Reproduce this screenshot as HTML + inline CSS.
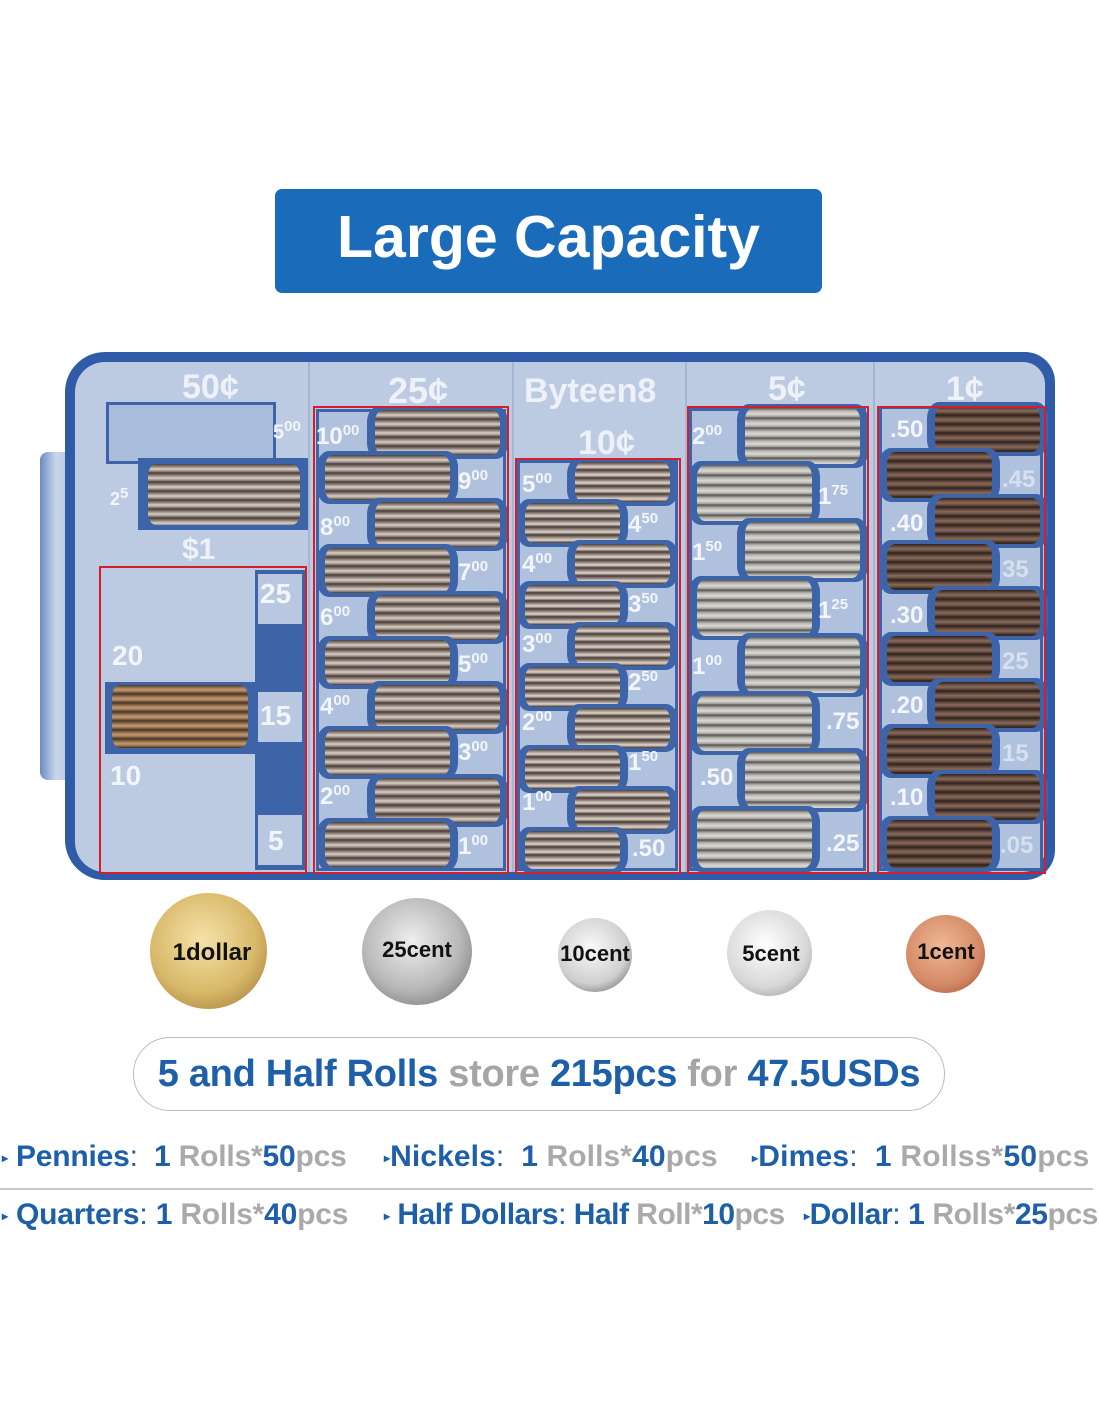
<!DOCTYPE html>
<html><head><meta charset="utf-8">
<style>
*{margin:0;padding:0;box-sizing:border-box}
body{width:1100px;height:1422px;background:#fff;position:relative;overflow:hidden;font-family:"Liberation Sans",sans-serif}
.a{position:absolute}
.st{position:absolute;border-radius:8px/12px;box-shadow:0 0 0 4px #3d63a8,4px 0 0 4px #3d63a8,-4px 0 0 4px #3d63a8}
.q{background:repeating-linear-gradient(180deg,#4a3f3a 0,#9d8f86 3px,#d9d0c8 5px,#7d6e66 8px,#3a302c 9px)}
.d{background:repeating-linear-gradient(180deg,#4a3f3a 0,#a89a92 3px,#e0d8d0 5px,#7d6e66 7px,#3a302c 8px)}
.n{background:repeating-linear-gradient(180deg,#555 0,#b8b6b0 3px,#dcdad4 6px,#9c9a94 9px,#444 10px)}
.p{background:repeating-linear-gradient(180deg,#2e211c 0,#6b5045 3px,#8a6a5a 5px,#4d3a32 8px,#2a1d18 9px)}
.col{position:absolute;background:#b0c1dd;border:3px solid #3d63a8}
.t{position:absolute;color:#f2f5fa;font-weight:bold;font-size:24px;white-space:nowrap}
.t sup{font-size:15px}
.h{position:absolute;color:#eef2f8;font-weight:bold;font-size:34px;white-space:nowrap}
.red{position:absolute;border:2px solid #d41f2a}
.coin{position:absolute;border-radius:50%}
.cl{position:absolute;font-weight:bold;color:#111;font-size:22px;white-space:nowrap;transform:translateX(-50%)}
.row{position:absolute;font-weight:bold;font-size:30px;white-space:nowrap;color:#1d5fa8;letter-spacing:-0.1px}
.row i{font-style:normal;color:#aaa}
.row b{font-size:12px;vertical-align:middle;color:#1d5fa8}
</style></head><body>

<div class="a" style="left:275px;top:189px;width:547px;height:104px;background:#1a6cba;border-radius:7px"></div>
<div class="a" style="left:275px;top:203px;width:547px;text-align:center;color:#fff;font-weight:bold;font-size:59px">Large Capacity</div>

<div class="a" style="left:40px;top:452px;width:40px;height:328px;background:linear-gradient(90deg,#6b8bc4,#c9d6ea 40%,#aabde0);border-radius:8px"></div>
<div class="a" style="left:65px;top:352px;width:990px;height:528px;background:#2f5ba8;border-radius:40px 30px 30px 40px"></div>
<div class="a" style="left:75px;top:362px;width:970px;height:510px;background:#bccbe2;border-radius:30px 22px 22px 30px"></div>
<div class="a" style="left:308px;top:362px;width:2px;height:510px;background:#a5b6d3"></div>
<div class="a" style="left:512px;top:362px;width:2px;height:510px;background:#a5b6d3"></div>
<div class="a" style="left:685px;top:362px;width:2px;height:510px;background:#a5b6d3"></div>
<div class="a" style="left:873px;top:362px;width:2px;height:510px;background:#a5b6d3"></div>

<div class="h" style="left:182px;top:368px">50¢</div>
<div class="h" style="left:388px;top:370px;font-size:36px">25¢</div>
<div class="h" style="left:524px;top:372px">Byteen8</div>
<div class="h" style="left:578px;top:424px">10¢</div>
<div class="h" style="left:768px;top:370px">5¢</div>
<div class="h" style="left:946px;top:370px">1¢</div>
<div class="h" style="left:182px;top:533px;font-size:30px">$1</div>

<div class="a" style="left:106px;top:402px;width:170px;height:62px;background:#a9bcdc;border:3px solid #3d63a8"></div>
<div class="a" style="left:138px;top:458px;width:170px;height:72px;background:#3d63a8"></div>
<div class="st q" style="left:148px;top:464px;width:152px;height:61px;box-shadow:none"></div>
<div class="t" style="left:273px;top:418px;font-size:20px">5<sup>00</sup></div>
<div class="t" style="left:110px;top:485px;font-size:18px">2<sup>5</sup></div>

<div class="a" style="left:255px;top:570px;width:50px;height:300px;background:#3d63a8"></div>
<div class="a" style="left:105px;top:682px;width:150px;height:72px;background:#3d63a8"></div>
<div class="a" style="left:258px;top:574px;width:44px;height:50px;background:#b9c8e0"></div>
<div class="a" style="left:258px;top:692px;width:44px;height:50px;background:#b9c8e0"></div>
<div class="a" style="left:258px;top:815px;width:44px;height:50px;background:#b9c8e0"></div>
<div class="st" style="left:112px;top:685px;width:136px;height:63px;box-shadow:none;background:repeating-linear-gradient(180deg,#4a3a2a 0,#a07b5a 3px,#c59a70 5px,#6d5038 8px,#3a2a1e 9px)"></div>
<div class="t" style="left:260px;top:578px;font-size:28px">25</div>
<div class="t" style="left:112px;top:640px;font-size:28px">20</div>
<div class="t" style="left:260px;top:700px;font-size:28px">15</div>
<div class="t" style="left:110px;top:760px;font-size:28px">10</div>
<div class="t" style="left:268px;top:825px;font-size:28px">5</div>

<div class="col" style="left:316px;top:409px;width:190px;height:462px"></div>
<div class="st q" style="left:375px;top:410px;width:125px;height:45px"></div>
<div class="st q" style="left:325px;top:455px;width:125px;height:45px"></div>
<div class="st q" style="left:375px;top:502px;width:125px;height:45px"></div>
<div class="st q" style="left:325px;top:548px;width:125px;height:45px"></div>
<div class="st q" style="left:375px;top:595px;width:125px;height:45px"></div>
<div class="st q" style="left:325px;top:640px;width:125px;height:45px"></div>
<div class="st q" style="left:375px;top:685px;width:125px;height:45px"></div>
<div class="st q" style="left:325px;top:730px;width:125px;height:45px"></div>
<div class="st q" style="left:375px;top:778px;width:125px;height:45px"></div>
<div class="st q" style="left:325px;top:822px;width:125px;height:45px"></div>
<div class="t" style="left:316px;top:422px">10<sup>00</sup></div>
<div class="t" style="left:458px;top:467px">9<sup>00</sup></div>
<div class="t" style="left:320px;top:513px">8<sup>00</sup></div>
<div class="t" style="left:458px;top:558px">7<sup>00</sup></div>
<div class="t" style="left:320px;top:603px">6<sup>00</sup></div>
<div class="t" style="left:458px;top:650px">5<sup>00</sup></div>
<div class="t" style="left:320px;top:692px">4<sup>00</sup></div>
<div class="t" style="left:458px;top:738px">3<sup>00</sup></div>
<div class="t" style="left:320px;top:782px">2<sup>00</sup></div>
<div class="t" style="left:458px;top:832px">1<sup>00</sup></div>

<div class="col" style="left:517px;top:460px;width:161px;height:411px"></div>
<div class="st d" style="left:575px;top:462px;width:95px;height:40px"></div>
<div class="st d" style="left:525px;top:503px;width:95px;height:40px"></div>
<div class="st d" style="left:575px;top:544px;width:95px;height:40px"></div>
<div class="st d" style="left:525px;top:585px;width:95px;height:40px"></div>
<div class="st d" style="left:575px;top:626px;width:95px;height:40px"></div>
<div class="st d" style="left:525px;top:667px;width:95px;height:40px"></div>
<div class="st d" style="left:575px;top:708px;width:95px;height:40px"></div>
<div class="st d" style="left:525px;top:749px;width:95px;height:40px"></div>
<div class="st d" style="left:575px;top:790px;width:95px;height:40px"></div>
<div class="st d" style="left:525px;top:831px;width:95px;height:38px"></div>
<div class="t" style="left:522px;top:470px">5<sup>00</sup></div>
<div class="t" style="left:628px;top:510px">4<sup>50</sup></div>
<div class="t" style="left:522px;top:550px">4<sup>00</sup></div>
<div class="t" style="left:628px;top:590px">3<sup>50</sup></div>
<div class="t" style="left:522px;top:630px">3<sup>00</sup></div>
<div class="t" style="left:628px;top:668px">2<sup>50</sup></div>
<div class="t" style="left:522px;top:708px">2<sup>00</sup></div>
<div class="t" style="left:628px;top:748px">1<sup>50</sup></div>
<div class="t" style="left:522px;top:788px">1<sup>00</sup></div>
<div class="t" style="left:632px;top:835px">.50</div>

<div class="col" style="left:689px;top:408px;width:177px;height:463px"></div>
<div class="st n" style="left:745px;top:408px;width:115px;height:56px"></div>
<div class="st n" style="left:697px;top:465px;width:115px;height:56px"></div>
<div class="st n" style="left:745px;top:522px;width:115px;height:56px"></div>
<div class="st n" style="left:697px;top:580px;width:115px;height:56px"></div>
<div class="st n" style="left:745px;top:637px;width:115px;height:56px"></div>
<div class="st n" style="left:697px;top:695px;width:115px;height:56px"></div>
<div class="st n" style="left:745px;top:752px;width:115px;height:56px"></div>
<div class="st n" style="left:697px;top:810px;width:115px;height:58px"></div>
<div class="t" style="left:692px;top:422px">2<sup>00</sup></div>
<div class="t" style="left:818px;top:482px">1<sup>75</sup></div>
<div class="t" style="left:692px;top:538px">1<sup>50</sup></div>
<div class="t" style="left:818px;top:596px">1<sup>25</sup></div>
<div class="t" style="left:692px;top:652px">1<sup>00</sup></div>
<div class="t" style="left:826px;top:708px">.75</div>
<div class="t" style="left:700px;top:764px">.50</div>
<div class="t" style="left:826px;top:830px">.25</div>

<div class="col" style="left:879px;top:406px;width:164px;height:465px"></div>
<div class="st p" style="left:935px;top:406px;width:105px;height:46px"></div>
<div class="st p" style="left:887px;top:452px;width:105px;height:46px"></div>
<div class="st p" style="left:935px;top:498px;width:105px;height:46px"></div>
<div class="st p" style="left:887px;top:544px;width:105px;height:46px"></div>
<div class="st p" style="left:935px;top:590px;width:105px;height:46px"></div>
<div class="st p" style="left:887px;top:636px;width:105px;height:46px"></div>
<div class="st p" style="left:935px;top:682px;width:105px;height:46px"></div>
<div class="st p" style="left:887px;top:728px;width:105px;height:46px"></div>
<div class="st p" style="left:935px;top:774px;width:105px;height:46px"></div>
<div class="st p" style="left:887px;top:820px;width:105px;height:48px"></div>
<div class="t" style="left:890px;top:416px">.50</div>
<div class="t" style="left:1002px;top:466px;opacity:.6">.45</div>
<div class="t" style="left:890px;top:510px">.40</div>
<div class="t" style="left:1002px;top:556px;opacity:.6">35</div>
<div class="t" style="left:890px;top:602px">.30</div>
<div class="t" style="left:1002px;top:648px;opacity:.6">25</div>
<div class="t" style="left:890px;top:692px">.20</div>
<div class="t" style="left:1002px;top:740px;opacity:.6">15</div>
<div class="t" style="left:890px;top:784px">.10</div>
<div class="t" style="left:1000px;top:832px;opacity:.6">.05</div>

<div class="red" style="left:99px;top:566px;width:208px;height:308px"></div>
<div class="red" style="left:313px;top:406px;width:196px;height:468px"></div>
<div class="red" style="left:515px;top:458px;width:166px;height:416px"></div>
<div class="red" style="left:687px;top:406px;width:182px;height:468px"></div>
<div class="red" style="left:877px;top:406px;width:169px;height:468px"></div>

<div class="coin" style="left:150px;top:893px;width:117px;height:116px;background:radial-gradient(circle at 45% 40%,#f5e2a8,#d9b96a 55%,#a6813c 90%,#8a6a2e)"></div>
<div class="coin" style="left:362px;top:898px;width:110px;height:107px;background:radial-gradient(circle at 45% 40%,#eee,#b8b8b8 55%,#777 90%,#555)"></div>
<div class="coin" style="left:558px;top:918px;width:74px;height:74px;background:radial-gradient(circle at 45% 40%,#fafafa,#cfcfcf 60%,#666 92%,#333)"></div>
<div class="coin" style="left:727px;top:910px;width:85px;height:86px;background:radial-gradient(circle at 45% 40%,#fff,#d8d8d8 60%,#999 92%,#666)"></div>
<div class="coin" style="left:906px;top:915px;width:79px;height:78px;background:radial-gradient(circle at 45% 40%,#f0b898,#d48a66 60%,#a8583a 92%,#7a3e28)"></div>
<div class="cl" style="left:212px;top:939px;font-size:24px">1dollar</div>
<div class="cl" style="left:417px;top:937px">25cent</div>
<div class="cl" style="left:595px;top:941px">10cent</div>
<div class="cl" style="left:771px;top:941px">5cent</div>
<div class="cl" style="left:946px;top:939px">1cent</div>

<div class="a" style="left:133px;top:1037px;width:812px;height:74px;border:1.5px solid #bbb;border-radius:38px"></div>
<div class="a" style="left:133px;top:1053px;width:812px;text-align:center;font-weight:bold;font-size:38px;color:#1d5fa8;white-space:nowrap;letter-spacing:-0.3px">5 and Half Rolls <span style="color:#a5a5a5">store</span> 215pcs <span style="color:#a5a5a5">for</span> 47.5USDs</div>

<div class="row" style="left:2px;top:1140px;letter-spacing:-0.2px"><b>▸</b> Pennies<span style="font-weight:normal">:</span>&nbsp; 1 <i>Rolls*</i>50<i>pcs</i></div>
<div class="row" style="left:384px;top:1140px;letter-spacing:0.1px"><b>▸</b>Nickels<span style="font-weight:normal">:</span>&nbsp; 1 <i>Rolls*</i>40<i>pcs</i></div>
<div class="row" style="left:752px;top:1140px;letter-spacing:0.2px"><b>▸</b>Dimes<span style="font-weight:normal">:</span>&nbsp; 1 <i>Rollss*</i>50<i>pcs</i></div>
<div class="a" style="left:0;top:1188px;width:1093px;height:1.5px;background:#c8c8c8"></div>
<div class="row" style="left:2px;top:1198px;letter-spacing:-0.2px"><b>▸</b> Quarters<span style="font-weight:normal">:</span> 1 <i>Rolls*</i>40<i>pcs</i></div>
<div class="row" style="left:384px;top:1198px;letter-spacing:-0.5px"><b>▸</b> Half Dollars<span style="font-weight:normal">:</span> Half <i>Roll*</i>10<i>pcs</i></div>
<div class="row" style="left:804px;top:1198px;letter-spacing:-0.4px"><b>▸</b>Dollar<span style="font-weight:normal">:</span> 1 <i>Rolls*</i>25<i>pcs</i></div>

</body></html>
